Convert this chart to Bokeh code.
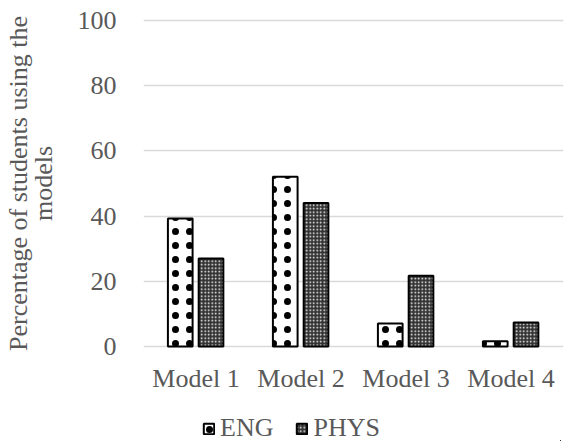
from bokeh.plotting import figure
from bokeh.models import FactorRange, Range1d, Legend, LegendItem, ColumnDataSource
from bokeh.layouts import column
from bokeh.transform import dodge
from bokeh.embed import file_html
from bokeh.resources import INLINE

categories = ["Model 1", "Model 2", "Model 3", "Model 4"]
eng = [39.3, 52.1, 7.1, 1.6]
phys = [27.0, 44.0, 21.7, 7.4]
y_ticks = [0, 20, 40, 60, 80, 100]
series_names = ["ENG", "PHYS"]
y_title = "Percentage of students using the\nmodels"

src = ColumnDataSource(dict(cat=categories, eng=eng, phys=phys))

FONT = "Liberation Serif"
GREY = "#595959"
ENG_STYLE = dict(fill_color="white", line_color="black", line_width=2,
                 hatch_pattern="dot", hatch_color="black", hatch_scale=14, hatch_weight=0.8)
PHYS_STYLE = dict(fill_color="#333333", line_color="black", line_width=2,
                  hatch_pattern="dot", hatch_color="white", hatch_scale=3.5, hatch_weight=1.8)

p = figure(x_range=FactorRange(*categories, range_padding=0.0),
           y_range=Range1d(-0.6, 100.6),
           frame_width=420, frame_height=330, output_backend="svg", toolbar_location=None,
           min_border_left=140, min_border_right=5, min_border_top=18, min_border_bottom=52)
p.outline_line_color = None
p.background_fill_color = "white"

p.vbar(x=dodge("cat", -0.15, range=p.x_range), top="eng", source=src, width=0.235, **ENG_STYLE)
p.vbar(x=dodge("cat", 0.143, range=p.x_range), top="phys", source=src, width=0.235, **PHYS_STYLE)

p.yaxis.ticker = y_ticks
p.xgrid.grid_line_color = None
p.ygrid.grid_line_color = "#d9d9d9"
p.ygrid.grid_line_width = 1.5

for ax in (p.xaxis, p.yaxis):
    ax.axis_line_color = None
    ax.major_tick_line_color = None
    ax.minor_tick_line_color = None
    ax.major_label_text_font = FONT
    ax.major_label_text_font_size = "26px"
    ax.major_label_text_color = GREY

p.yaxis.major_label_standoff = 21
p.xaxis.major_label_standoff = 9
p.yaxis.axis_label = y_title
p.yaxis.axis_label_text_font = FONT
p.yaxis.axis_label_text_font_style = "normal"
p.yaxis.axis_label_text_font_size = "26px"
p.yaxis.axis_label_text_color = GREY
p.yaxis.axis_label_text_align = "center"
p.yaxis.axis_label_text_line_height = 0.85
p.yaxis.axis_label_standoff = 17

# legend in its own strip below; its proxy bars are placed well outside the visible ranges
lg = figure(width=565, height=41, output_backend="svg", toolbar_location=None,
            x_axis_location=None, y_axis_location=None,
            x_range=FactorRange(*categories), y_range=Range1d(60, 61),
            min_border_left=0, min_border_right=0, min_border_top=0, min_border_bottom=0)
lg.outline_line_color = None
lg.xgrid.grid_line_color = None
lg.ygrid.grid_line_color = None
e_r = lg.vbar(x=dodge("cat", 20, range=lg.x_range), top="eng", source=src, width=0.2, **ENG_STYLE)
p_r = lg.vbar(x=dodge("cat", 20, range=lg.x_range), top="phys", source=src, width=0.2, **PHYS_STYLE)

legend = Legend(items=[LegendItem(label=series_names[0], renderers=[e_r]),
                       LegendItem(label=series_names[1], renderers=[p_r])],
                orientation="horizontal", location=(59, -2),
                label_text_font=FONT, label_text_font_size="26px", label_text_color=GREY,
                glyph_width=13, glyph_height=13, label_standoff=5, spacing=22,
                border_line_color=None, background_fill_alpha=0, margin=0, padding=0)
lg.add_layout(legend)

open("out.html", "w").write(file_html(column(p, lg, spacing=0), INLINE))
